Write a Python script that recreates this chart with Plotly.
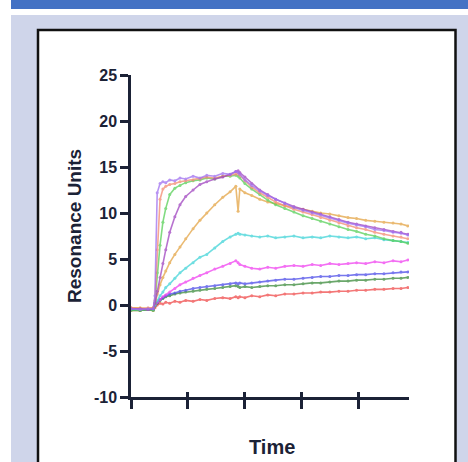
import plotly.graph_objects as go

time = [0.00, 0.16, 0.30, 0.39, 0.42, 0.46, 0.51, 0.56, 0.61, 0.68, 0.77, 0.86, 0.96, 1.09,
        1.21, 1.33, 1.47, 1.61, 1.74, 1.84, 1.88, 1.91, 2.00, 2.12, 2.26, 2.40, 2.54, 2.70,
        2.86, 3.02, 3.18, 3.33, 3.49, 3.65, 3.81, 3.96, 4.12, 4.28, 4.44, 4.60, 4.74, 4.86]

violet = [-0.4, -0.5, -0.4, -0.4, 1.0, 12.2, 13.2, 13.4, 13.3, 13.6, 13.5, 13.8, 13.7, 14.0,
          13.8, 14.1, 14.0, 14.3, 14.2, 14.5, 14.4, 14.2, 13.6, 13.0, 12.4, 11.9, 11.5, 11.0,
          10.6, 10.3, 10.0, 9.8, 9.5, 9.2, 8.9, 8.7, 8.5, 8.2, 8.1, 7.9, 7.8, 7.6]
salmon = [-0.3, -0.4, -0.3, -0.3, 0.5, 6.0, 11.5, 12.6, 12.9, 13.1, 13.2, 13.4, 13.5, 13.6,
          13.7, 13.9, 13.8, 14.0, 14.1, 14.2, 14.3, 14.1, 13.5, 12.8, 12.2, 11.7, 11.2, 10.8,
          10.4, 10.1, 9.8, 9.5, 9.2, 8.9, 8.6, 8.4, 8.2, 7.9, 7.7, 7.5, 7.4, 7.2]
green = [-0.6, -0.6, -0.5, -0.6, 0.3, 3.5, 6.5, 9.0, 10.5, 12.0, 12.7, 13.0, 13.3, 13.5,
         13.6, 13.8, 13.7, 14.0, 14.0, 14.1, 14.0, 13.8, 13.2, 12.6, 12.0, 11.4, 10.9, 10.5,
         10.1, 9.7, 9.4, 9.1, 8.8, 8.5, 8.2, 8.0, 7.7, 7.5, 7.2, 7.0, 6.9, 6.7]
purple = [-0.4, -0.4, -0.5, -0.4, 0.2, 1.5, 3.0, 4.5, 6.0, 7.9, 9.6, 10.9, 11.8, 12.5,
          13.1, 13.4, 13.7, 13.9, 14.2, 14.5, 14.6, 14.4, 13.9, 13.2, 12.5, 12.0, 11.5, 11.1,
          10.7, 10.4, 10.1, 9.9, 9.6, 9.3, 9.0, 8.8, 8.6, 8.4, 8.2, 8.0, 7.9, 7.7]
gold = [-0.3, -0.3, -0.4, -0.3, 0.2, 1.2, 2.2, 3.0, 3.7, 4.6, 5.5, 6.3, 7.2, 8.3,
        9.2, 10.0, 10.9, 11.7, 12.3, 12.9, 10.2, 12.6, 12.2, 11.9, 11.5, 11.2, 11.0, 10.8,
        10.6, 10.4, 10.2, 10.0, 9.9, 9.7, 9.5, 9.4, 9.2, 9.1, 9.0, 8.9, 8.8, 8.6]
cyan = [-0.5, -0.5, -0.4, -0.5, 0.0, 0.5, 1.0, 1.4, 1.9, 2.3, 2.9, 3.5, 4.0, 4.6,
        5.2, 5.5, 6.2, 6.9, 7.4, 7.7, 7.8, 7.7, 7.6, 7.5, 7.4, 7.5, 7.3, 7.4,
        7.5, 7.3, 7.4, 7.3, 7.5, 7.4, 7.3, 7.4, 7.2, 7.3, 7.1, 7.0, 6.9, 6.8]
magenta = [-0.4, -0.4, -0.5, -0.4, 0.0, 0.3, 0.6, 0.9, 1.1, 1.4, 1.8, 2.2, 2.5, 2.9,
           3.2, 3.5, 3.9, 4.2, 4.5, 4.8, 4.6, 4.4, 4.2, 4.0, 3.9, 4.1, 4.0, 4.2,
           4.3, 4.2, 4.4, 4.3, 4.5, 4.4, 4.5, 4.6, 4.5, 4.7, 4.6, 4.8, 4.7, 4.9]
blue = [-0.5, -0.5, -0.5, -0.5, 0.0, 0.3, 0.6, 0.8, 1.0, 1.2, 1.3, 1.5, 1.6, 1.8,
        1.9, 2.0, 2.1, 2.2, 2.3, 2.4, 2.3, 2.4, 2.3, 2.4, 2.5, 2.6, 2.7, 2.8,
        2.8, 2.9, 3.0, 3.1, 3.1, 3.2, 3.2, 3.3, 3.3, 3.4, 3.4, 3.5, 3.6, 3.6]
dkgreen = [-0.5, -0.6, -0.5, -0.5, -0.1, 0.2, 0.5, 0.7, 0.9, 1.0, 1.2, 1.3, 1.4, 1.5,
           1.6, 1.7, 1.8, 1.9, 2.0, 2.1, 2.0, 1.9, 2.0, 1.9, 2.0, 2.1, 2.1, 2.2,
           2.2, 2.3, 2.4, 2.4, 2.5, 2.6, 2.6, 2.7, 2.7, 2.8, 2.8, 2.9, 2.9, 3.0]
red = [-0.6, -0.6, -0.5, -0.6, -0.3, 0.0, 0.2, 0.1, 0.3, 0.2, 0.4, 0.3, 0.5, 0.4,
       0.6, 0.5, 0.7, 0.8, 0.7, 0.9, 0.8, 0.9, 0.8, 1.0, 0.9, 1.1, 1.0, 1.2,
       1.2, 1.3, 1.3, 1.4, 1.4, 1.5, 1.5, 1.6, 1.6, 1.7, 1.7, 1.8, 1.8, 1.9]

series = [
    ("red", red, "#f04a4a"),
    ("dkgreen", dkgreen, "#3a8a3a"),
    ("blue", blue, "#4a4ae8"),
    ("magenta", magenta, "#f040f0"),
    ("cyan", cyan, "#40d4d8"),
    ("gold", gold, "#e4a444"),
    ("green", green, "#58d058"),
    ("salmon", salmon, "#f48a70"),
    ("purple", purple, "#a044c0"),
    ("violet", violet, "#a070f0"),
]

y_ticks = [-10, -5, 0, 5, 10, 15, 20, 25]
y_ticktext = ["-10", "-5", "0", "5", "10", "15", "20", "25"]
x_ticks = [0, 1, 2, 3, 4]

W, H = 468, 462
ML, MR, MT, MB = 131, 59, 75, 65
PW, PH = W - ML - MR, H - MT - MB

def px_x(px):
    return (px - ML) / PW

def px_y(py):
    return 1 - (py - MT) / PH

fig = go.Figure()
for name, vals, col in series:
    fig.add_trace(go.Scatter(x=time, y=vals, mode="lines+markers", name=name,
                             line=dict(color=col, width=1.6), marker=dict(size=3, color=col),
                             opacity=0.75, showlegend=False, hoverinfo="skip"))
fig.add_trace(go.Scatter(x=[0], y=[0], xaxis="x2", mode="markers", marker=dict(opacity=0),
                         showlegend=False, hoverinfo="skip"))

navy = "#1b2236"
font = "Arial, Liberation Sans, sans-serif"

fig.update_layout(
    width=W, height=H,
    margin=dict(l=ML, r=MR, t=MT, b=MB),
    paper_bgcolor="white", plot_bgcolor="rgba(0,0,0,0)",
    xaxis=dict(range=[0, 4.88], tickvals=x_ticks, showticklabels=False, ticks="outside",
               ticklen=9, tickwidth=2.5, tickcolor=navy, showline=True, linecolor=navy,
               linewidth=2.5, showgrid=False, zeroline=False),
    xaxis2=dict(range=[0, 4.88], tickvals=x_ticks, showticklabels=False, ticks="inside",
                ticklen=5, tickwidth=2.5, tickcolor=navy, overlaying="x", anchor="y",
                showline=False, showgrid=False, zeroline=False),
    yaxis=dict(range=[-10, 25], tickvals=y_ticks, ticktext=y_ticktext, ticks="outside",
               ticklen=8, tickwidth=2.5, tickcolor=navy, showline=True, linecolor=navy,
               linewidth=2.5, showgrid=False, zeroline=False,
               tickfont=dict(family=font, size=16, color=navy, weight="bold")),
    shapes=[
        dict(type="rect", xref="paper", yref="paper", x0=px_x(11), x1=px_x(470),
             y0=px_y(9), y1=px_y(-2), fillcolor="#4472c4", line=dict(width=0), layer="below"),
        dict(type="rect", xref="paper", yref="paper", x0=px_x(11), x1=px_x(470),
             y0=px_y(470), y1=px_y(15), fillcolor="#cfd5ea", line=dict(width=0), layer="below"),
        dict(type="rect", xref="paper", yref="paper", x0=px_x(38), x1=px_x(455.5),
             y0=px_y(475), y1=px_y(30), fillcolor="white", line=dict(width=2.5, color="#111111"),
             layer="below"),
    ],
    annotations=[
        dict(text="<b>Resonance Units</b>", xref="paper", yref="paper", x=px_x(74), y=px_y(226),
             textangle=-90, showarrow=False, font=dict(family=font, size=19, color=navy),
             xanchor="center", yanchor="middle"),
        dict(text="<b>Time</b>", xref="paper", yref="paper", x=px_x(272), y=px_y(447),
             showarrow=False, font=dict(family=font, size=20, color=navy),
             xanchor="center", yanchor="middle"),
    ],
)

fig.write_html("out.html", config={"displayModeBar": False},
               post_script="document.body.style.margin='0';document.body.style.padding='0';")
